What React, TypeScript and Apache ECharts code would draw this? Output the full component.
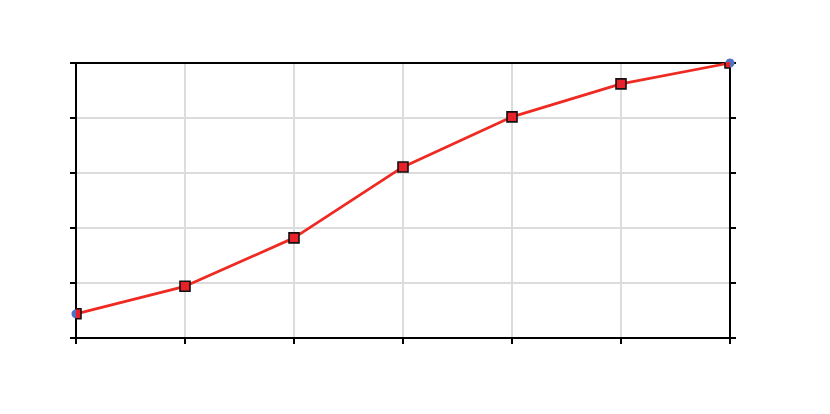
import { useEffect, useRef } from 'react'
import * as echarts from 'echarts'

const X_VALUES = [0, 1, 2, 3, 4, 5, 6]
const Y_VALUES = [0.44, 0.94, 1.82, 3.11, 4.02, 4.62, 5]

const LINE_RED = '#ee2a22'
const MARKER_RED = '#e8222a'
const END_BLUE = '#4f72c4'
const GRID_GRAY = '#dcdcdc'

export default function App() {
  const chartRef = useRef<HTMLDivElement>(null)

  useEffect(() => {
    if (!chartRef.current) return
    const chart = echarts.init(chartRef.current, undefined, { renderer: 'svg' })

    const points = X_VALUES.map((x, i) => [x, Y_VALUES[i]])
    const ends = [points[0], points[points.length - 1]]

    const axisLine = { show: true, onZero: false, lineStyle: { color: '#000', width: 2 } }
    const outTick = { show: true, inside: false, length: 6, lineStyle: { color: '#000', width: 2 } }

    const option: echarts.EChartsOption = {
      animation: false,
      backgroundColor: '#fff',
      grid: { left: 76, right: 100, top: 63, bottom: 76, containLabel: false },
      xAxis: [
        {
          type: 'value',
          min: 0,
          max: 6,
          interval: 1,
          position: 'bottom',
          axisLine,
          axisTick: outTick,
          axisLabel: { show: false },
          splitLine: { show: true, lineStyle: { color: GRID_GRAY, width: 2 } },
        },
        {
          type: 'value',
          min: 0,
          max: 6,
          interval: 1,
          position: 'top',
          axisLine,
          axisTick: { show: false },
          axisLabel: { show: false },
          splitLine: { show: false },
        },
      ],
      yAxis: [
        {
          type: 'value',
          min: 0,
          max: 5,
          interval: 1,
          position: 'left',
          axisLine,
          axisTick: outTick,
          axisLabel: { show: false },
          splitLine: { show: true, lineStyle: { color: GRID_GRAY, width: 2 } },
        },
        {
          type: 'value',
          min: 0,
          max: 5,
          interval: 1,
          position: 'right',
          axisLine,
          axisTick: outTick,
          axisLabel: { show: false },
          splitLine: { show: false },
        },
      ],
      series: [
        {
          type: 'scatter',
          xAxisIndex: 0,
          yAxisIndex: 0,
          data: ends,
          symbol: 'circle',
          symbolSize: 9,
          itemStyle: { color: END_BLUE, opacity: 1 },
          clip: false,
          z: 2,
          silent: true,
        },
        {
          type: 'line',
          xAxisIndex: 0,
          yAxisIndex: 0,
          data: points,
          showSymbol: false,
          symbol: 'none',
          lineStyle: { color: LINE_RED, width: 2.8 },
          z: 3,
          silent: true,
        },
        {
          type: 'custom',
          xAxisIndex: 0,
          yAxisIndex: 0,
          data: points,
          clip: true,
          z: 4,
          silent: true,
          renderItem: (_params: any, api: any) => {
            const [cx, cy] = api.coord([api.value(0), api.value(1)])
            return {
              type: 'rect',
              shape: { x: cx - 5, y: cy - 5, width: 10, height: 10 },
              style: { fill: MARKER_RED, stroke: '#111', lineWidth: 1.6 },
            }
          },
        },
      ],
    }

    chart.setOption(option)
    return () => chart.dispose()
  }, [])

  return (
    <div
      ref={chartRef}
      style={{ position: 'fixed', left: 0, top: 0, width: '830px', height: '414px' }}
    />
  )
}
